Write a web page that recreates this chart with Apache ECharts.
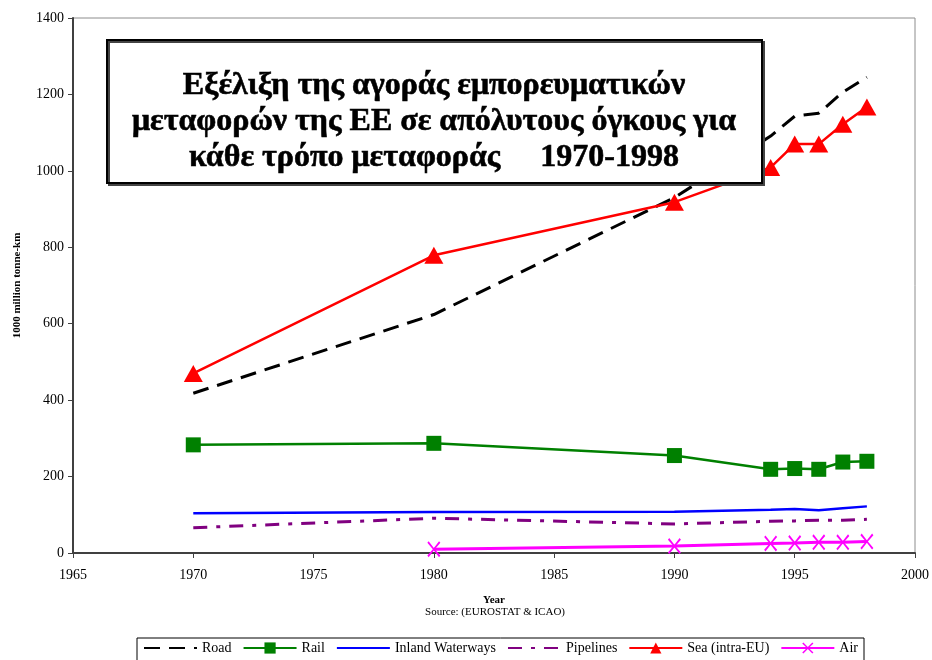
<!DOCTYPE html>
<html>
<head>
<meta charset="utf-8">
<script src="https://cdn.jsdelivr.net/npm/echarts@6/dist/echarts.min.js"></script>
<style>
    html, body { margin: 0; padding: 0; background: #fff; }
    #chart { width: 932px; height: 660px; }
</style>
</head>
<body>
<div id="chart"></div>
<script>
    // data
    var years = [1970, 1980, 1990, 1994, 1995, 1996, 1997, 1998];
    var road = [418, 624, 930, 1091, 1143, 1151, 1206, 1245];
    var rail = [283, 287, 255, 219, 221, 219, 238, 240];
    var inland = [104, 107, 108, 113, 115, 112, 117, 122];
    var pipelines = [66, 91, 76, 83, 84, 86, 86, 88];
    var sea = [470, 779, 918, 1009, 1070, 1070, 1122, 1167];
    var air = [null, 10, 18, 25, 26, 28, 28, 30];
    var seriesNames = ['Road', 'Rail', 'Inland Waterways', 'Pipelines', 'Sea (intra-EU)', 'Air'];
    var titleLines = [
        'Εξέλιξη της αγοράς εμπορευματικών',
        'μεταφορών της ΕΕ σε απόλυτους όγκους για',
        'κάθε τρόπο μεταφοράς     1970-1998'
    ];

    var serif = '"Liberation Serif", "DejaVu Serif", serif';
    var crossPath = 'path://M0,1L1,0L5,4.2L9,0L10,1L5.8,5L10,9L9,10L5,5.8L1,10L0,9L4.2,5Z';

    function pairs(vals) {
        var out = [];
        for (var i = 0; i < years.length; i++) {
            if (vals[i] !== null) out.push([years[i], vals[i]]);
        }
        return out;
    }

    // lines without markers: hide the legend dot
    var noDot = { color: 'transparent', borderWidth: 0 };
    var legendData = seriesNames.map(function (n) {
        if (n === 'Road' || n === 'Inland Waterways' || n === 'Pipelines') {
            return { name: n, itemStyle: noDot };
        }
        return { name: n };
    });

    var chart = echarts.init(document.getElementById('chart'));
    var option = {
        backgroundColor: '#fff',
        animation: false,
        textStyle: { fontFamily: serif, color: '#000' },
        title: {
            text: titleLines.join('\n'),
            left: 429, top: 63,
            textAlign: 'center',
            z: 120,
            textStyle: {
                fontFamily: 'Liberation Serif', fontWeight: 700, fontSize: 32,
                lineHeight: 36, color: '#000',
                textBorderColor: '#000', textBorderWidth: 0.6
            }
        },
        grid: {
            left: 73, right: 15, top: 18, bottom: 107,
            show: true, borderColor: '#8c8c8c', borderWidth: 1
        },
        legend: {
            left: 137, top: 638,
            padding: [3, 6, 6, 6],
            itemWidth: 53, itemHeight: 14, itemGap: 11,
            borderColor: '#000', borderWidth: 1,
            textStyle: { fontFamily: serif, fontSize: 14, color: '#000' },
            data: legendData
        },
        xAxis: {
            type: 'value',
            min: 1965, max: 2000, interval: 5,
            name: 'Year',
            nameLocation: 'middle',
            nameGap: 42,
            nameTextStyle: { fontFamily: serif, fontWeight: 'bold', fontSize: 11, color: '#000' },
            axisLine: { show: true, lineStyle: { color: '#404040', width: 2 } },
            axisTick: { show: true, inside: false, length: 5, lineStyle: { color: '#404040' } },
            axisLabel: {
                fontFamily: serif, fontSize: 14, color: '#000', margin: 15,
                formatter: function (v) { return String(v); }
            },
            splitLine: { show: false }
        },
        yAxis: {
            type: 'value',
            min: 0, max: 1400, interval: 200,
            name: '1000 million tonne-km',
            nameLocation: 'middle',
            nameGap: 50,
            nameTextStyle: { fontFamily: serif, fontWeight: 'bold', fontSize: 11, color: '#000' },
            axisLine: { show: true, lineStyle: { color: '#404040', width: 2 } },
            axisTick: { show: true, inside: false, length: 5, lineStyle: { color: '#404040' } },
            axisLabel: {
                fontFamily: serif, fontSize: 14, color: '#000', margin: 9,
                formatter: function (v) { return String(v); }
            },
            splitLine: { show: false }
        },
        series: [
            {
                name: 'Road', type: 'line', symbol: 'none',
                lineStyle: { color: '#000', width: 3, type: [16, 9] },
                itemStyle: { color: '#000' },
                data: pairs(road)
            },
            {
                name: 'Rail', type: 'line', symbol: 'rect', symbolSize: 15,
                lineStyle: { color: '#008000', width: 2.5 },
                itemStyle: { color: '#008000' },
                data: pairs(rail)
            },
            {
                name: 'Inland Waterways', type: 'line', symbol: 'none',
                lineStyle: { color: '#0000ff', width: 2.5 },
                itemStyle: { color: '#0000ff' },
                data: pairs(inland)
            },
            {
                name: 'Pipelines', type: 'line', symbol: 'none',
                lineStyle: { color: '#800080', width: 3, type: [14, 9, 4, 9] },
                itemStyle: { color: '#800080' },
                data: pairs(pipelines)
            },
            {
                name: 'Sea (intra-EU)', type: 'line', symbol: 'triangle', symbolSize: [19, 17],
                lineStyle: { color: '#ff0000', width: 2.5 },
                itemStyle: { color: '#ff0000' },
                data: pairs(sea)
            },
            {
                name: 'Air', type: 'line', symbol: crossPath, symbolSize: [13, 16],
                lineStyle: { color: '#ff00ff', width: 3 },
                itemStyle: { color: '#ff00ff' },
                data: pairs(air)
            }
        ],
        graphic: [
            {
                type: 'rect', z: 100,
                shape: { x: 107, y: 40, width: 655, height: 143 },
                style: {
                    fill: '#fff', stroke: '#000', lineWidth: 2,
                    shadowColor: '#444', shadowOffsetX: 2, shadowOffsetY: 2, shadowBlur: 0
                }
            },
            {
                type: 'text', z: 101,
                x: 495, y: 607,
                style: {
                    text: 'Source: (EUROSTAT & ICAO)',
                    align: 'center',
                    fontFamily: serif, fontSize: 11, fill: '#000'
                }
            }
        ]
    };
    chart.setOption(option);
</script>
</body>
</html>
